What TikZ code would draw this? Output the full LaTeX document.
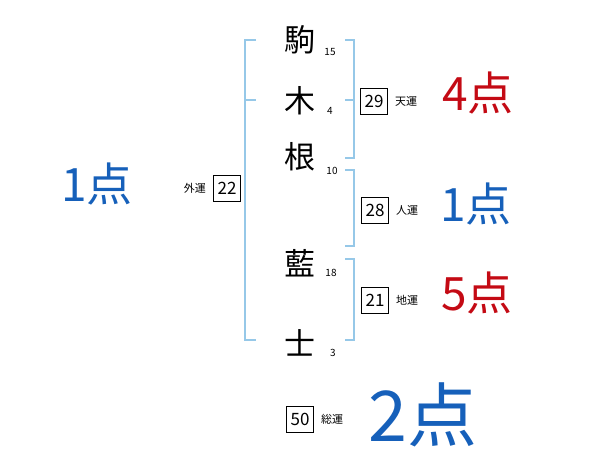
\documentclass[tikz,border=0pt]{standalone}
\usepackage{fontspec}
\newfontfamily\jp{Noto Sans CJK JP}
\usetikzlibrary{positioning}
\definecolor{scoreblue}{RGB}{22,96,186}
\definecolor{scorered}{RGB}{196,10,20}
\definecolor{bracketblue}{RGB}{150,200,232}

\tikzset{
  kanji/.style={font=\jp\fontsize{31}{31}\selectfont, inner sep=0pt},
  strokes/.style={font=\jp\fontsize{10}{10}\selectfont, inner sep=0pt},
  unbox/.style={draw, line width=0.9pt, minimum width=27pt, minimum height=26pt, inner sep=0pt, font=\jp\fontsize{17}{17}\selectfont},
  unlabel/.style={font=\jp\fontsize{11}{11}\selectfont, inner sep=0pt},
  score/.style={font=\jp\fontsize{46}{46}\selectfont, inner sep=0pt},
  bigscore/.style={font=\jp\fontsize{70}{70}\selectfont, inner sep=0pt},
  bracket/.style={draw=bracketblue, line width=1.6pt}
}

\begin{document}
\begin{tikzpicture}[x=1pt,y=-1pt]
	\useasboundingbox (0,0) rectangle (600,470);
	
	% Name, one character per row, stroke counts beside
	\node[kanji] (c1) at (300,40) {駒};
	\node[kanji] (c2) at (300,101) {木};
	\node[kanji] (c3) at (300,157) {根};
	\node[kanji] (c4) at (300,263) {藍};
	\node[kanji] (c5) at (300,343) {士};
	
	\node[strokes] (n1) at (330,52) {15};
	\node[strokes] (n2) at (330,111) {4};
	\node[strokes] (n3) at (332,171) {10};
	\node[strokes] (n4) at (331,273) {18};
	\node[strokes] (n5) at (333,353) {3};
	
	% Left bracket (outer)
	\draw[bracket] (256,40) -- (245,40) -- (245,340) -- (256,340);
	\draw[bracket] (245,100) -- (256,100);
	
	% Right brackets
	\draw[bracket] (345,40) -- (354,40) -- (354,158) -- (345,158);
	\draw[bracket] (345,100) -- (354,100);
	\draw[bracket] (345,170) -- (354,170) -- (354,246) -- (345,246);
	\draw[bracket] (345,259) -- (354,259) -- (354,340) -- (345,340);
	
	% Boxes with totals
	\node[unbox] (gai) at (227,188) {22};
	\node[unlabel, left=7pt of gai] (gaiL) {外運};
	
	\node[unbox] (ten) at (374,101) {29};
	\node[unlabel, right=7pt of ten] (tenL) {天運};
	
	\node[unbox] (jin) at (375,210) {28};
	\node[unlabel, right=7pt of jin] (jinL) {人運};
	
	\node[unbox] (chi) at (375,300) {21};
	\node[unlabel, right=7pt of chi] (chiL) {地運};
	
	\node[unbox] (sou) at (300,419) {50};
	\node[unlabel, right=7pt of sou] (souL) {総運};
	
	% Scores
	\node[score, scoreblue] (gaiS) at (97,184) {1点};
	\node[score, scorered] (tenS) at (478,93) {4点};
	\node[score, scoreblue] (jinS) at (476,204) {1点};
	\node[score, scorered] (chiS) at (477,293) {5点};
	\node[bigscore, scoreblue] (souS) at (423,415) {2点};
	
\end{tikzpicture}
\end{document}
